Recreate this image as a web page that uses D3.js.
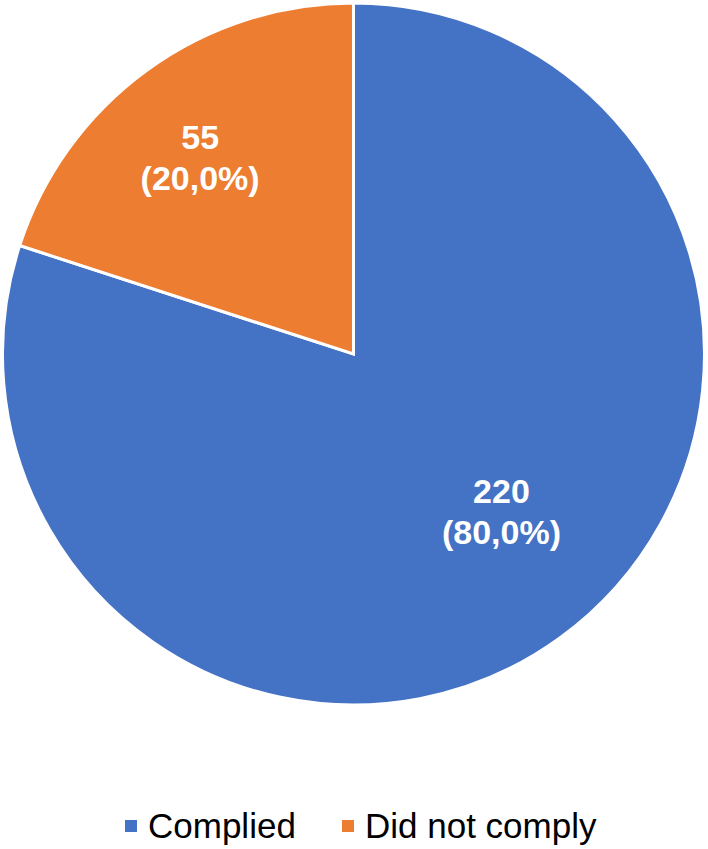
<!DOCTYPE html>
<html>
<head>
<meta charset="utf-8">
<script src="https://cdn.jsdelivr.net/npm/d3@7"></script>
<style>
  body { margin: 0; background: #fff; }
  svg { display: block; font-family: "Liberation Sans", Arial, sans-serif; }
</style>
</head>
<body>
<div id="chart"></div>
<script>
// chart data
var categories = ["Complied", "Did not comply"];
var counts = [220, 55];
var percents = ["80,0%", "20,0%"];
var colors = ["#4472C4", "#ED7D31"];

var width = 708,
    height = 849,
    cx = 353.5,
    cy = 354,
    radius = 351;

var colorScale = d3.scaleOrdinal().domain(categories).range(colors);

var svg = d3.select("#chart").append("svg")
    .attr("width", width)
    .attr("height", height);

var g = svg.append("g")
    .attr("transform", "translate(" + cx + "," + cy + ")");

var pie = d3.pie().sort(null).value(function(d) { return d.value; });
var arc = d3.arc().innerRadius(0).outerRadius(radius);

var slices = pie(categories.map(function(c, i) {
    return {name: c, value: counts[i], pct: percents[i]};
}));

g.selectAll(".slice")
    .data(slices)
    .enter().append("path")
    .attr("class", "slice")
    .attr("d", arc)
    .attr("fill", function(d) { return colorScale(d.data.name); })
    .attr("stroke", "#fff")
    .attr("stroke-width", 3)
    .attr("stroke-linejoin", "miter");

// label placement, roughly like Excel's best fit
var labelRadius = {"Complied": 216, "Did not comply": 249};
var labelShift = {"Complied": [21, -18], "Did not comply": [-7, 4]};

var labels = g.selectAll(".lbl")
    .data(slices)
    .enter().append("text")
    .attr("class", "lbl")
    .attr("transform", function(d) {
        var r = labelRadius[d.data.name];
        var c = d3.arc().innerRadius(r).outerRadius(r).centroid(d);
        var s = labelShift[d.data.name];
        return "translate(" + (c[0] + s[0]) + "," + (c[1] + s[1]) + ")";
    })
    .attr("text-anchor", "middle")
    .attr("fill", "#fff")
    .style("font-weight", "bold")
    .style("font-size", "34px");

labels.append("tspan")
    .attr("x", 0)
    .attr("y", -8)
    .text(function(d) { return d.data.value; });
labels.append("tspan")
    .attr("x", 0)
    .attr("y", 33)
    .text(function(d) { return "(" + d.data.pct + ")"; });

// legend
var legendX = [125, 342];
var legend = svg.selectAll(".legend")
    .data(categories)
    .enter().append("g")
    .attr("class", "legend")
    .attr("transform", function(d, i) { return "translate(" + legendX[i] + ",820)"; });

legend.append("rect")
    .attr("width", 12)
    .attr("height", 12)
    .attr("fill", colorScale);

legend.append("text")
    .attr("x", 23)
    .attr("y", 18)
    .style("font-size", "35px")
    .attr("fill", "#000")
    .text(function(d) { return d; });
</script>
</body>
</html>
